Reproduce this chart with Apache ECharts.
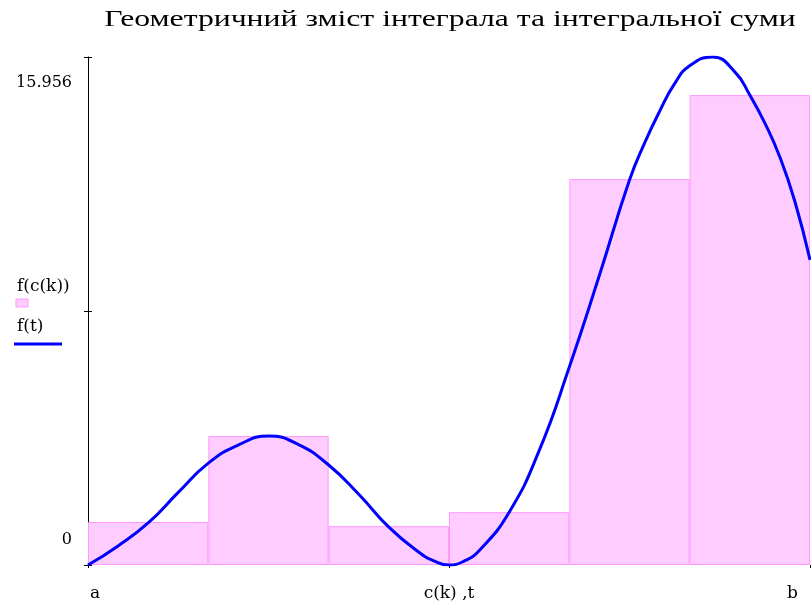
<!DOCTYPE html>
<html>
<head>
<meta charset="utf-8">
<script src="https://cdn.jsdelivr.net/npm/echarts@6/dist/echarts.min.js"></script>
<style>
  html, body { margin: 0; padding: 0; background: #fff; }
  #chart { width: 811px; height: 603px; }
</style>
</head>
<body>
<div id="chart"></div>
<script>
// інтервали розбиття (a..b поділено на 6 частин)
const barCats = ['1', '2', '3', '4', '5', '6']
// f(c(k)) — висоти прямокутників (значення в серединах інтервалів)
const barVals = [1.35, 4.05, 1.22, 1.66, 12.12, 14.76]

// f(t) — точки кривої
const tVals = [0, 0.25, 0.5, 0.75, 1.0, 1.25, 1.5, 1.75, 2.0, 2.25, 2.5, 2.75, 2.875, 3.0, 3.125, 3.25, 3.5, 3.75, 4.0, 4.25, 4.5, 4.625, 4.75, 4.875, 5.0, 5.19, 5.375, 5.5, 5.625, 5.75, 5.875, 6.0]
const fVals = [0, 0.6, 1.32, 2.28, 3.2, 3.77, 4.05, 3.78, 3.14, 2.22, 1.19, 0.4, 0.13, 0, 0.12, 0.45, 1.66, 3.6, 6.22, 9.1, 12.09, 13.25, 14.25, 15.12, 15.68, 15.956, 15.49, 14.76, 13.88, 12.81, 11.41, 9.58]

const yMax = 15.956
const serif = '"Liberation Serif", serif'
const labelFont = '"DejaVu Serif", serif'

const chart = echarts.init(document.getElementById('chart'))

chart.setOption({
  animation: false,
  grid: { left: 88, right: 1, top: 57, bottom: 38 },
  xAxis: [
    {
      type: 'value',
      min: 0,
      max: 6,
      interval: 3,
      axisLine: { show: false },
      axisTick: { show: true, length: 3, lineStyle: { color: '#000' } },
      splitLine: { show: false },
      axisLabel: {
        margin: 20,
        fontFamily: labelFont,
        fontSize: 17,
        color: '#000',
        alignMinLabel: 'left',
        alignMaxLabel: 'right',
        formatter: (v) => (v === 0 ? '{a|a}' : v === 3 ? 'c(k) ,t' : '{b|b}'),
        rich: {
          a: { fontFamily: labelFont, fontSize: 17, padding: [0, 0, 0, 2] },
          b: { fontFamily: labelFont, fontSize: 17, padding: [0, 12, 0, 0] },
        },
      },
    },
    {
      type: 'category',
      data: barCats,
      show: false,
    },
  ],
  yAxis: [
    {
      type: 'value',
      min: 0,
      max: yMax,
      interval: yMax / 2,
      axisLine: { show: true, lineStyle: { color: '#000', width: 1 } },
      axisTick: { show: true, length: 4, lineStyle: { color: '#000' } },
      splitLine: { show: false },
      axisLabel: {
        margin: 16,
        color: '#000',
        fontFamily: labelFont,
        fontSize: 16,
        formatter: (v) => (v === 0 ? '{z|0}' : v > 15 ? '{t|15.956}' : ''),
        rich: {
          t: { fontFamily: labelFont, fontSize: 16, padding: [52, 0, 0, 0] },
          z: { fontFamily: labelFont, fontSize: 16, padding: [0, 0, 50, 0] },
        },
      },
    },
    {
      // внутрішні риски осі
      type: 'value',
      min: 0,
      max: yMax,
      interval: yMax / 2,
      position: 'left',
      axisLine: { show: false },
      axisTick: { show: true, inside: true, length: 4, lineStyle: { color: '#000' } },
      axisLabel: { show: false },
      splitLine: { show: false },
    },
  ],
  series: [
    {
      name: 'f(c(k))',
      type: 'bar',
      xAxisIndex: 1,
      yAxisIndex: 0,
      data: barVals,
      barWidth: '100%',
      barCategoryGap: '0%',
      itemStyle: { color: '#ffccff', borderColor: '#ff99ff', borderWidth: 1 },
      z: 1,
    },
    {
      name: 'f(t)',
      type: 'line',
      xAxisIndex: 0,
      yAxisIndex: 0,
      data: tVals.map((t, i) => [t, fVals[i]]),
      smooth: 0.5,
      showSymbol: false,
      lineStyle: { color: '#0000ff', width: 3 },
      z: 3,
    },
  ],
  graphic: [
    {
      // заголовок, розтягнутий по ширині як в оригіналі
      type: 'text',
      x: 450,
      y: 20,
      scaleX: 1.32,
      style: {
        text: 'Геометричний зміст інтеграла та інтегральної суми',
        font: '24px ' + serif,
        fill: '#000',
        align: 'center',
        verticalAlign: 'middle',
      },
    },
    {
      type: 'text',
      x: 17,
      y: 287,
      style: { text: 'f(c(k))', font: '17px ' + labelFont, fill: '#000', verticalAlign: 'middle' },
    },
    {
      type: 'rect',
      shape: { x: 16, y: 299, width: 12, height: 8 },
      style: { fill: '#ffccff', stroke: '#ff99ff', lineWidth: 1 },
    },
    {
      type: 'text',
      x: 17,
      y: 327,
      style: { text: 'f(t)', font: '17px ' + labelFont, fill: '#000', verticalAlign: 'middle' },
    },
    {
      type: 'line',
      shape: { x1: 14, y1: 344, x2: 62, y2: 344 },
      style: { stroke: '#0000ff', lineWidth: 3 },
    },
  ],
})
</script>
</body>
</html>
